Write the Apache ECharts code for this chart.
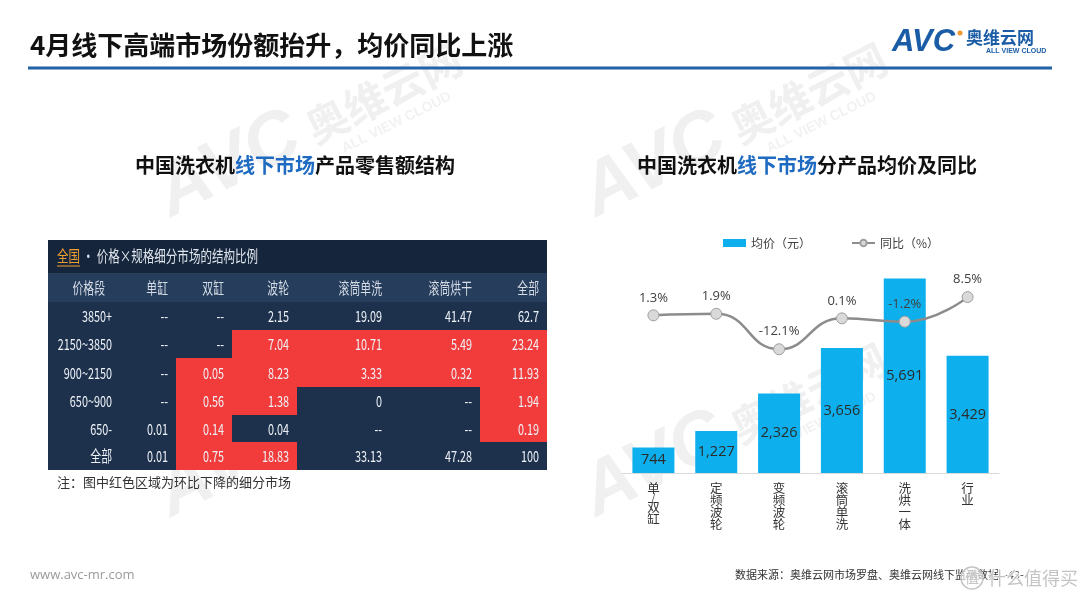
<!DOCTYPE html>
<html>
<head>
<meta charset="utf-8">
<title>4月线下高端市场份额抬升，均价同比上涨</title>
<style>
  html, body { margin: 0; padding: 0; background: #fff; }
  #main { width: 1080px; height: 608px; }
</style>
<script src="https://cdn.jsdelivr.net/npm/echarts@6/dist/echarts.min.js"></script>
</head>
<body>
<div id="main"></div>
<script>
// 左表：价格段 × 规格 结构比例（%）
const colHeads = ['价格段', '单缸', '双缸', '波轮', '滚筒单洗', '滚筒烘干', '全部'];
const priceBands = ['3850+', '2150~3850', '900~2150', '650~900', '650-', '全部'];
const shareSingle = ['--', '--', '--', '--', '0.01', '0.01'];
const shareTwin = ['--', '--', '0.05', '0.56', '0.14', '0.75'];
const sharePulsator = ['2.15', '7.04', '8.23', '1.38', '0.04', '18.83'];
const shareDrumWash = ['19.09', '10.71', '3.33', '0', '--', '33.13'];
const shareDrumDry = ['41.47', '5.49', '0.32', '--', '--', '47.28'];
const shareTotal = ['62.7', '23.24', '11.93', '1.94', '0.19', '100'];
// 1 = 环比下降（红色），按 单缸..全部 排列
const downFlags = [
  [0, 0, 0, 0, 0, 0],
  [0, 0, 1, 1, 1, 1],
  [0, 1, 1, 1, 1, 1],
  [0, 1, 1, 0, 0, 1],
  [0, 1, 0, 0, 0, 1],
  [0, 1, 1, 0, 0, 0]
];

// 右图：分产品均价及同比
const productTypes = ['单/双缸', '定频波轮', '变频波轮', '滚筒单洗', '洗烘一体', '行业'];
const avgPrice = [744, 1227, 2326, 3656, 5691, 3429];
const yoyRate = [1.3, 1.9, -12.1, 0.1, -1.2, 8.5];

// 表格版式（像素单位）
const colEdges = [0, 72, 128, 184, 249, 342, 432, 499];
const rowEdges = [0, 33, 62, 90, 118, 147, 175, 202, 230];

const CJK = '"Noto Sans CJK SC", "Noto Sans", sans-serif';

let tableCols = [priceBands, shareSingle, shareTwin, sharePulsator, shareDrumWash, shareDrumDry, shareTotal];
let cells = [];
colHeads.forEach((h, c) => cells.push({ value: [c, 1], text: h, kind: 'head' }));
priceBands.forEach((b, r) => {
  tableCols.forEach((col, c) => {
    let down = c > 0 && downFlags[r][c - 1] === 1;
    cells.push({ value: [c, r + 2], text: col[r], kind: down ? 'down' : 'body' });
  });
});

function renderCell(params, api) {
  let cell = cells[params.dataIndex];
  let c = api.value(0), r = api.value(1);
  let p0 = api.coord([colEdges[c], rowEdges[r]]);
  let p1 = api.coord([colEdges[c + 1], rowEdges[r + 1]]);
  let fill = cell.kind === 'head' ? '#263d5c' : (cell.kind === 'down' ? '#f23c3c' : '#1d314d');
  let pad = (c === 0 && cell.kind === 'head') ? 15 : 8;
  return {
    type: 'group',
    children: [{
      type: 'rect',
      shape: { x: p0[0], y: p0[1], width: p1[0] - p0[0], height: p1[1] - p0[1] },
      style: { fill: fill }
    }, {
      type: 'text',
      x: p1[0] - pad,
      y: (p0[1] + p1[1]) / 2 + 0.5,
      scaleX: 0.7,
      style: {
        text: cell.text, x: 0, y: 0, align: 'right', verticalAlign: 'middle',
        fill: cell.kind === 'head' ? '#d6dde7' : '#eef2f7', fontSize: 15.5, fontFamily: CJK
      }
    }]
  };
}

function thousands(v) {
  return String(v).replace(/\B(?=(\d{3})+(?!\d))/g, ',');
}

function watermark(x, y) {
  return {
    type: 'group', x: x, y: y, rotation: 0.46, z: 0, silent: true,
    children: [
      { type: 'text', x: 0, y: 0, style: { text: 'AVC', fontSize: 74, fontWeight: 900, fontStyle: 'italic', fontFamily: '"Liberation Sans", sans-serif', fill: '#f0f0f0', verticalAlign: 'bottom' } },
      { type: 'text', x: 162, y: -12, style: { text: '奥维云网', fontSize: 42, fontWeight: 'bold', fontFamily: CJK, fill: '#f0f0f0', verticalAlign: 'bottom' } },
      { type: 'text', x: 184, y: 6, style: { text: 'ALL VIEW CLOUD', fontSize: 14, fontWeight: 'bold', fontFamily: '"Liberation Sans", sans-serif', fill: '#f2f2f2', verticalAlign: 'bottom' } }
    ]
  };
}

let mychart = echarts.init(document.getElementById('main'));

let option = {
  backgroundColor: '#fff',
  animation: false,
  textStyle: { fontFamily: CJK },
  graphic: [
    watermark(178, 232),
    watermark(603, 232),
    watermark(178, 532),
    watermark(603, 532),
    // 标题
    { type: 'text', x: 30, y: 45, z: 10, style: { text: '4月线下高端市场份额抬升，均价同比上涨', fontSize: 26, fontWeight: 'bold', fontFamily: CJK, fill: '#111', verticalAlign: 'middle' } },
    { type: 'line', z: 10, shape: { x1: 28, y1: 68, x2: 1052, y2: 68 }, style: { stroke: '#2262a6', lineWidth: 3 } },
    // logo
    { type: 'text', x: 892, y: 42, z: 10, style: { text: 'AVC', fontSize: 31, fontWeight: 900, fontStyle: 'italic', fontFamily: '"Liberation Sans", sans-serif', fill: '#1a5da6', verticalAlign: 'middle' } },
    { type: 'circle', z: 10, shape: { cx: 960, cy: 33, r: 2.5 }, style: { fill: '#f29a2e' } },
    { type: 'text', x: 966, y: 38, z: 10, style: { text: '奥维云网', fontSize: 17, fontWeight: 'bold', fontFamily: CJK, fill: '#1a5da6', verticalAlign: 'middle' } },
    { type: 'text', x: 986, y: 51, z: 10, style: { text: 'ALL VIEW CLOUD', fontSize: 7, fontWeight: 'bold', fontFamily: '"Liberation Sans", sans-serif', fill: '#1a5da6', verticalAlign: 'middle' } },
    // 副标题
    { type: 'text', x: 295, y: 165, z: 10, style: { text: '{k|中国洗衣机}{b|线下市场}{k|产品零售额结构}', align: 'center', verticalAlign: 'middle', rich: {
      k: { fontSize: 20, fontWeight: 'bold', fontFamily: CJK, fill: '#111' },
      b: { fontSize: 20, fontWeight: 'bold', fontFamily: CJK, fill: '#1f6bc1' } } } },
    { type: 'text', x: 807, y: 165, z: 10, style: { text: '{k|中国洗衣机}{b|线下市场}{k|分产品均价及同比}', align: 'center', verticalAlign: 'middle', rich: {
      k: { fontSize: 20, fontWeight: 'bold', fontFamily: CJK, fill: '#111' },
      b: { fontSize: 20, fontWeight: 'bold', fontFamily: CJK, fill: '#1f6bc1' } } } },
    // 表头标题行
    { type: 'rect', z: 10, shape: { x: 48, y: 240, width: 499, height: 33 }, style: { fill: '#15253c' } },
    { type: 'text', x: 57, y: 256, z: 11, scaleX: 0.72, style: { text: '{o|全国}{w| • 价格×规格细分市场的结构比例}', verticalAlign: 'middle', rich: {
      o: { fontSize: 16, fontFamily: CJK, fill: '#f0a030' },
      w: { fontSize: 16, fontFamily: CJK, fill: '#dfe5ec' } } } },
    { type: 'line', z: 11, shape: { x1: 57, y1: 266, x2: 80, y2: 266 }, style: { stroke: '#f0a030', lineWidth: 1 } },
    { type: 'text', x: 57, y: 482, z: 10, style: { text: '注：图中红色区域为环比下降的细分市场', fontSize: 13, fontFamily: CJK, fill: '#333', verticalAlign: 'middle' } },
    // 页脚
    { type: 'text', x: 30, y: 575, z: 10, style: { text: 'www.avc-mr.com', fontSize: 13, fontFamily: '"Open Sans", sans-serif', fill: '#9a9a9a', verticalAlign: 'middle' } },
    { type: 'text', x: 735, y: 575, z: 10, style: { text: '数据来源：奥维云网市场罗盘、奥维云网线下监测数据  -43-', fontSize: 11, fontFamily: CJK, fill: '#333', verticalAlign: 'middle' } },
    { type: 'circle', z: 12, shape: { cx: 972, cy: 578, r: 11 }, style: { fill: 'rgba(255,255,255,0.6)', stroke: '#c4c4c4', lineWidth: 1.5 } },
    { type: 'text', x: 972, y: 578, z: 12, style: { text: '值', fontSize: 14, fontFamily: CJK, fill: '#c4c4c4', align: 'center', verticalAlign: 'middle' } },
    { type: 'text', x: 988, y: 578, z: 12, style: { text: '什么值得买', fontSize: 18, fontFamily: CJK, fill: '#c4c4c4', stroke: 'rgba(255,255,255,0.8)', lineWidth: 2, verticalAlign: 'middle' } }
  ],
  legend: {
    data: [{ name: '均价（元）', icon: 'rect' }, { name: '同比（%）' }],
    left: 718,
    top: 232,
    itemGap: 40,
    itemWidth: 23,
    itemHeight: 8,
    textStyle: { fontSize: 12, color: '#404040', fontFamily: CJK }
  },
  grid: [
    { left: 48, top: 240, width: 499, height: 230 },
    { left: 622, right: 81, top: 268, bottom: 135 }
  ],
  xAxis: [
    { type: 'value', gridIndex: 0, min: 0, max: 499, show: false },
    {
      type: 'category', gridIndex: 1, data: productTypes,
      axisLine: { lineStyle: { color: '#d9d9d9', width: 1 } },
      axisTick: { show: false },
      axisLabel: {
        margin: 9,
        interval: 0,
        formatter: function (v) {
          return v.split('').map(ch => ch === '/' ? '{s|/}' : '{c|' + ch + '}').join('\n');
        },
        rich: {
          c: { fontSize: 12.5, lineHeight: 12, color: '#333', fontFamily: CJK },
          s: { fontSize: 10, lineHeight: 7, color: '#333', fontFamily: CJK }
        }
      }
    }
  ],
  yAxis: [
    { type: 'value', gridIndex: 0, min: 0, max: 230, inverse: true, show: false },
    { type: 'value', gridIndex: 1, min: 0, max: 6000, show: false },
    { type: 'value', gridIndex: 1, min: -61, max: 20, show: false }
  ],
  series: [{
    name: '结构比例',
    type: 'custom',
    xAxisIndex: 0,
    yAxisIndex: 0,
    silent: true,
    clip: false,
    renderItem: renderCell,
    data: cells.map(d => d.value)
  }, {
    name: '均价（元）',
    type: 'bar',
    xAxisIndex: 1,
    yAxisIndex: 1,
    data: avgPrice,
    barWidth: 42,
    itemStyle: { color: '#0db0ec' },
    label: {
      show: true,
      position: 'inside',
      fontSize: 14.5,
      color: '#2b2b2b',
      fontFamily: '"Open Sans", sans-serif',
      formatter: p => thousands(p.value)
    }
  }, {
    name: '同比（%）',
    type: 'line',
    xAxisIndex: 1,
    yAxisIndex: 2,
    data: yoyRate,
    smooth: 0.5,
    symbol: 'circle',
    symbolSize: 11,
    lineStyle: { color: '#8c8c8c', width: 2.5 },
    itemStyle: { color: '#d9d9d9', borderColor: '#a0a0a0', borderWidth: 1 },
    label: {
      show: true,
      position: 'top',
      distance: 5,
      fontSize: 13,
      color: '#404040',
      fontFamily: '"Open Sans", sans-serif',
      formatter: p => p.value.toFixed(1) + '%'
    },
    z: 5
  }]
};

mychart.setOption(option);
window.onresize = function () {
  mychart.resize();
};
</script>
</body>
</html>
